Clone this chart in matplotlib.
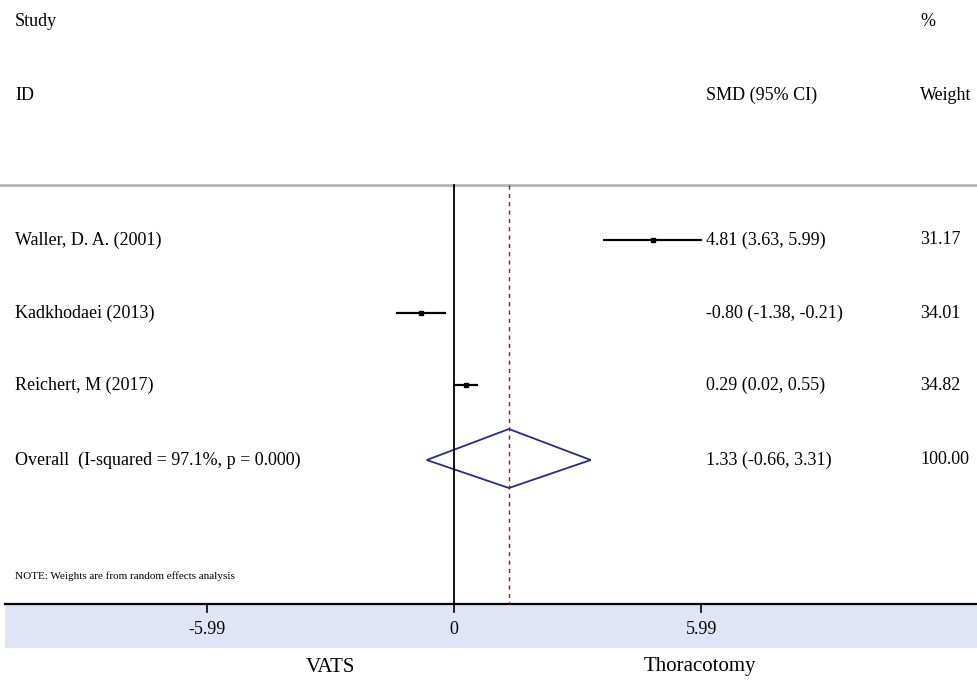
import matplotlib.pyplot as plt
from matplotlib.patches import Polygon
import numpy as np

studies = ["Waller, D. A. (2001)", "Kadkhodaei (2013)", "Reichert, M (2017)"]
smd = [4.81, -0.80, 0.29]
lo = [3.63, -1.38, 0.02]
hi = [5.99, -0.21, 0.55]
weights = [31.17, 34.01, 34.82]

overall_label = "Overall  (I-squared = 97.1%, p = 0.000)"
overall = 1.33
overall_lo = -0.66
overall_hi = 3.31
overall_weight = 100.00

ticks = [-5.99, 0, 5.99]
tick_labels = ["-5.99", "0", "5.99"]

plt.rcParams["font.family"] = ["Liberation Serif", "DejaVu Serif"]

W, H = 977, 683
fig = plt.figure(figsize=(W / 100, H / 100), dpi=100)
ax = fig.add_axes([0, 0, 1, 1])

# x in SMD units, y in pixel rows (top = 0)
x0_px = 454
px_per_unit = 41.3
ax.set_xlim(-x0_px / px_per_unit, (W - x0_px) / px_per_unit)
ax.set_ylim(H, 0)
ax.axis("off")

def px(x):
    return (x - x0_px) / px_per_unit

row_y = [240, 313, 385, 460]
top_line = 185
axis_y = 604
band_bottom = 648
fs = 13
col_est = 706
col_w = 920

# headers
ax.text(px(15), 22, "Study", fontsize=fs, va="center")
ax.text(px(15), 95, "ID", fontsize=fs, va="center")
ax.text(px(col_est), 95, "SMD (95% CI)", fontsize=fs, va="center")
ax.text(px(col_w), 22, "%", fontsize=fs, va="center")
ax.text(px(col_w), 95, "Weight", fontsize=fs, va="center")

ax.plot([px(0), px(W)], [top_line, top_line], color="#b4b4b4", lw=2)

# band under the axis
ax.fill_between([px(5), px(W)], axis_y, band_bottom, color="#dfe5f6", lw=0)
ax.plot([px(5), px(W)], [axis_y, axis_y], color="black", lw=1.6)
for t, lab in zip(ticks, tick_labels):
    ax.plot([t, t], [axis_y, axis_y + 8], color="black", lw=1.2)
    ax.text(t, 630, lab, fontsize=fs, ha="center", va="center")

# null line and overall line
ax.plot([0, 0], [top_line, axis_y], color="black", lw=1.3)
ax.plot([overall, overall], [top_line, axis_y], color="#8b1a2a", lw=1,
        dashes=(3, 3))

for i in range(len(studies)):
    y = row_y[i]
    ax.plot([lo[i], hi[i]], [y, y], color="black", lw=1.6)
    ax.plot(smd[i], y, marker="s", color="black", ms=3.5)
    ax.text(px(15), y, studies[i], fontsize=fs, va="center")
    est = f"{smd[i]:.2f} ({lo[i]:.2f}, {hi[i]:.2f})"
    ax.text(px(col_est), y, est, fontsize=fs, va="center")
    ax.text(px(col_w), y, f"{weights[i]:.2f}", fontsize=fs, va="center")

yo = row_y[3]
diamond = Polygon([[overall_lo, yo], [overall, yo - 31], [overall_hi, yo],
                   [overall, yo + 28]], closed=True, fill=False,
                  edgecolor="#2a2a86", lw=1.3)
ax.add_patch(diamond)
ax.text(px(15), yo, overall_label, fontsize=fs, va="center")
ax.text(px(col_est), yo,
        f"{overall:.2f} ({overall_lo:.2f}, {overall_hi:.2f})",
        fontsize=fs, va="center")
ax.text(px(col_w), yo, f"{overall_weight:.2f}", fontsize=fs, va="center")

ax.text(px(15), 576, "NOTE: Weights are from random effects analysis",
        fontsize=8, va="center")

ax.text(px(330), 667, "VATS", fontsize=15, ha="center", va="center")
ax.text(px(700), 667, "Thoracotomy", fontsize=15, ha="center", va="center")

fig.savefig("out.png", dpi=100)
